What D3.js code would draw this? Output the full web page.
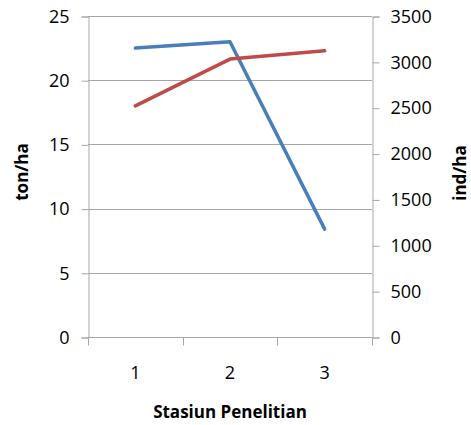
<!DOCTYPE html>
<html>
<head>
<meta charset="utf-8">
<script src="https://cdn.jsdelivr.net/npm/d3@7"></script>
<style>
  html, body { margin: 0; padding: 0; background: #fff; }
  svg text { font-family: "Open Sans", "DejaVu Sans", sans-serif; fill: #000; }
</style>
</head>
<body>
<svg id="chart" width="471" height="425"></svg>
<script>
// Stations and measured values
const stations = ["1", "2", "3"];
const tonPerHa = [22.5, 23.0, 8.4];        // left axis (ton/ha)
const indPerHa = [2520, 3030, 3120];       // right axis (ind/ha)
const leftTicks = [0, 5, 10, 15, 20, 25];
const rightTicks = [0, 500, 1000, 1500, 2000, 2500, 3000, 3500];

const svg = d3.select("#chart");
const margin = { left: 88, right: 99, top: 16, bottom: 88 };
const W = 471, H = 425;
const x0 = margin.left, x1 = W - margin.right;
const y0 = H - margin.bottom, y1 = margin.top;

const x = d3.scaleBand().domain(stations).range([x0, x1]);
const yL = d3.scaleLinear().domain([0, 25]).range([y0, y1]);
const yR = d3.scaleLinear().domain([0, 3500]).range([y0, y1]);

const gridColor = "#a6a6a6";
const tickFont = 18;

// Horizontal gridlines at left-axis ticks
svg.append("g")
  .selectAll("line")
  .data(leftTicks)
  .join("line")
  .attr("x1", x0).attr("x2", x1)
  .attr("y1", d => Math.round(yL(d)) + 0.5)
  .attr("y2", d => Math.round(yL(d)) + 0.5)
  .attr("stroke", gridColor).attr("stroke-width", 1);

// Left axis
const gL = svg.append("g")
  .attr("transform", `translate(${x0 + 0.5},0.5)`)
  .call(d3.axisLeft(yL).tickValues(leftTicks).tickFormat(d3.format("d"))
    .tickSize(7).tickPadding(12));

// Right axis
const gR = svg.append("g")
  .attr("transform", `translate(${x1 + 0.5},0.5)`)
  .call(d3.axisRight(yR).tickValues(rightTicks).tickFormat(d3.format("d"))
    .tickSize(7).tickPadding(11));

// Bottom axis: ticks at band boundaries, labels at band centres
const gB = svg.append("g")
  .attr("transform", `translate(0,${y0 + 0.5})`);
const boundaries = stations.map(s => x(s)).concat([x1]);
gB.append("line")
  .attr("x1", x0).attr("x2", x1)
  .attr("stroke", gridColor);
gB.selectAll("line.tick")
  .data(boundaries)
  .join("line")
  .attr("class", "tick")
  .attr("x1", d => Math.round(d) + 0.5).attr("x2", d => Math.round(d) + 0.5)
  .attr("y1", 0).attr("y2", 8)
  .attr("stroke", gridColor);
gB.selectAll("text")
  .data(stations)
  .join("text")
  .attr("x", d => x(d) + x.bandwidth() / 2)
  .attr("y", 41)
  .attr("text-anchor", "middle")
  .attr("font-size", tickFont)
  .text(d => d);

[gL, gR].forEach(g => {
  g.select(".domain").attr("stroke", gridColor);
  g.selectAll(".tick line").attr("stroke", gridColor);
  g.selectAll(".tick text")
    .attr("font-size", tickFont)
    .attr("font-family", "'Open Sans', sans-serif")
    .attr("fill", "#000");
});

// Series lines
const lineL = d3.line()
  .x((d, i) => x(stations[i]) + x.bandwidth() / 2)
  .y(d => yL(d));
const lineR = d3.line()
  .x((d, i) => x(stations[i]) + x.bandwidth() / 2)
  .y(d => yR(d));

svg.append("path")
  .datum(tonPerHa)
  .attr("d", lineL)
  .attr("fill", "none")
  .attr("stroke", "#4a7ebb")
  .attr("stroke-width", 3.5)
  .attr("stroke-linejoin", "round")
  .attr("stroke-linecap", "round");

svg.append("path")
  .datum(indPerHa)
  .attr("d", lineR)
  .attr("fill", "none")
  .attr("stroke", "#be4b48")
  .attr("stroke-width", 3.5)
  .attr("stroke-linejoin", "round")
  .attr("stroke-linecap", "round");

// Axis titles
svg.append("text")
  .attr("transform", `translate(28,172) rotate(-90)`)
  .attr("text-anchor", "middle")
  .attr("font-size", 17)
  .attr("font-weight", "bold")
  .text("ton/ha");

svg.append("text")
  .attr("transform", `translate(466,173) rotate(-90)`)
  .attr("text-anchor", "middle")
  .attr("font-size", 17)
  .attr("font-weight", "bold")
  .text("ind/ha");

svg.append("text")
  .attr("x", (x0 + x1) / 2)
  .attr("y", 418)
  .attr("text-anchor", "middle")
  .attr("font-size", 17)
  .attr("font-weight", "bold")
  .text("Stasiun Penelitian");
</script>
</body>
</html>
